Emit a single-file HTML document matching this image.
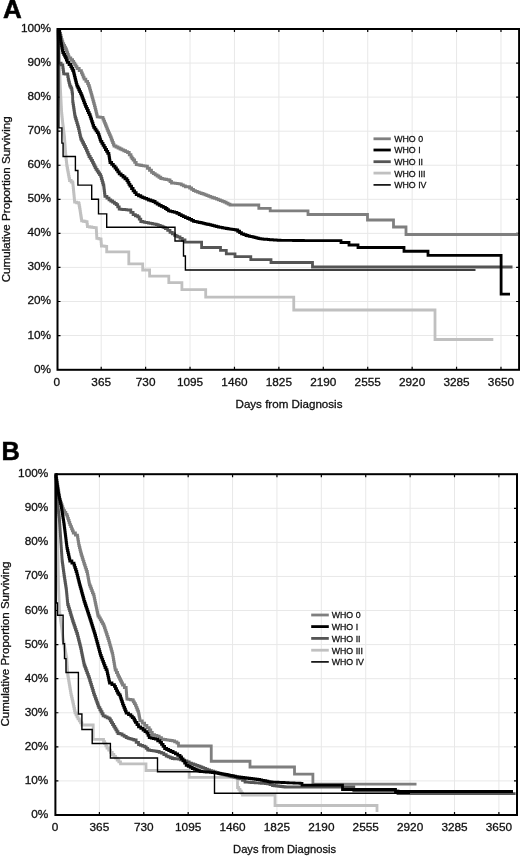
<!DOCTYPE html>
<html><head><meta charset="utf-8"><style>
html,body{margin:0;padding:0;background:#fff;}
body{width:520px;height:856px;overflow:hidden;}
svg{display:block;filter:grayscale(1) blur(0.3px);}
text{font-family:"Liberation Sans",sans-serif;fill:#111;stroke:#111;stroke-width:0.3px;}
.tk{font-size:11.8px;}
.lg{font-size:9.7px;}
.ti{font-size:11.2px;}
.big{font-size:26px;font-weight:bold;fill:#000;stroke:#000;stroke-width:0.5px;}
</style></head><body>
<svg width="520" height="856" viewBox="0 0 520 856">
<rect width="520" height="856" fill="#fff"/>
<path d="M101.20 29.00V369.80M145.62 29.00V369.80M190.04 29.00V369.80M234.46 29.00V369.80M278.88 29.00V369.80M323.30 29.00V369.80M367.72 29.00V369.80M412.14 29.00V369.80M456.56 29.00V369.80M500.98 29.00V369.80M57.50 335.54H519.10M57.50 301.48H519.10M57.50 267.42H519.10M57.50 233.36H519.10M57.50 199.30H519.10M57.50 165.24H519.10M57.50 131.18H519.10M57.50 97.12H519.10M57.50 63.06H519.10" stroke="#e8e8e8" stroke-width="1" fill="none"/>
<path d="M101.20 29.00v3M101.20 369.80v-3M145.62 29.00v3M145.62 369.80v-3M190.04 29.00v3M190.04 369.80v-3M234.46 29.00v3M234.46 369.80v-3M278.88 29.00v3M278.88 369.80v-3M323.30 29.00v3M323.30 369.80v-3M367.72 29.00v3M367.72 369.80v-3M412.14 29.00v3M412.14 369.80v-3M456.56 29.00v3M456.56 369.80v-3M500.98 29.00v3M500.98 369.80v-3M57.50 335.54h3M519.10 335.54h-3M57.50 301.48h3M519.10 301.48h-3M57.50 267.42h3M519.10 267.42h-3M57.50 233.36h3M519.10 233.36h-3M57.50 199.30h3M519.10 199.30h-3M57.50 165.24h3M519.10 165.24h-3M57.50 131.18h3M519.10 131.18h-3M57.50 97.12h3M519.10 97.12h-3M57.50 63.06h3M519.10 63.06h-3" stroke="#000" stroke-width="1.2" fill="none"/>
<path d="M57.50 29.50 H57.65 V31.55 H57.80 V33.60 H57.95 V35.65 H58.10 V37.70 H58.25 V39.75 H58.40 V41.80 H58.55 V43.85 H58.70 V45.90 H58.85 V47.95 H59.00 V50.00 H59.06 V52.00 H59.12 V54.00 H59.18 V56.00 H59.24 V58.00 H59.30 V60.00 H59.36 V62.00 H59.42 V64.00 H59.48 V66.00 H59.54 V68.00 H59.60 V70.00 H59.68 V72.00 H59.76 V74.00 H59.84 V76.00 H59.92 V78.00 H60.00 V80.00 H60.08 V82.00 H60.16 V84.00 H60.24 V86.00 H60.32 V88.00 H60.40 V90.00 H60.50 V91.94 H60.60 V93.88 H60.70 V95.83 H60.80 V97.77 H60.90 V99.71 H61.00 V101.65 H61.10 V103.59 H61.20 V105.53 H61.30 V107.47 H61.40 V109.42 H61.50 V111.36 H61.60 V113.30 H61.80 V115.25 H62.00 V117.20 H62.20 V119.15 H62.40 V121.10 H62.60 V123.05 H62.80 V125.00 H63.04 V127.00 H63.29 V129.00 H63.53 V131.00 H63.77 V133.00 H64.01 V135.00 H64.26 V137.00 H64.50 V139.00 H64.65 V141.05 H64.80 V143.10 H64.95 V145.15 H65.10 V147.20 H65.25 V149.25 H65.40 V151.30 H65.55 V153.35 H65.70 V155.40 H65.92 V157.50 H66.14 V159.60 H66.36 V161.70 H66.58 V163.80 H66.80 V165.90 H67.19 V167.99 H67.57 V170.07 H67.96 V172.16 H68.34 V174.24 H68.73 V176.33 H69.11 V178.41 H69.50 V180.50 H71.15 V182.00 H72.80 V183.50 H73.00 V185.58 H73.20 V187.66 H73.40 V189.73 H73.60 V191.81 H73.80 V193.89 H74.00 V195.97 H74.20 V198.04 H74.40 V200.12 H74.60 V202.20 H76.65 V202.75 H78.70 V203.30 H79.07 V205.27 H79.43 V207.23 H79.80 V209.20 H80.10 V211.15 H80.40 V213.10 H80.70 V215.05 H81.00 V217.00 H81.30 V218.95 H81.60 V220.90 H83.33 V221.27 H85.07 V221.63 H86.80 V222.00 H87.10 V224.35 H87.40 V226.70 H89.60 V227.00 H91.80 V227.30 H94.00 V227.60 H96.20 V227.90 H96.32 V230.00 H96.44 V232.10 H96.56 V234.20 H96.68 V236.30 H96.80 V238.40 H98.85 V238.95 H100.90 V239.50 H101.07 V241.67 H101.23 V243.83 H101.40 V246.00 H103.17 V246.17 H104.93 V246.33 H106.70 V246.50 H106.70 V248.27 H106.70 V250.03 H106.70 V251.80 H128.80 V263.80 H142.70 V270.00 H149.60 V276.20 H168.80 V282.70 H181.90 V289.60 H205.70 V297.20 H293.75 V310.00 H435.00 V339.50 H493.30" stroke="#c0c0c0" stroke-width="2.80" fill="none" stroke-linejoin="miter" stroke-linecap="butt"/>
<path d="M57.50 29.50 H59.30 V31.30 H59.88 V33.37 H60.47 V35.43 H61.05 V37.50 H61.63 V39.57 H62.22 V41.63 H62.80 V43.70 H63.70 V45.48 H64.60 V47.25 H65.50 V49.02 H66.40 V50.80 H67.05 V52.57 H67.70 V54.35 H68.35 V56.12 H69.00 V57.90 H70.80 V59.65 H72.60 V61.40 H73.70 V63.17 H74.80 V64.95 H75.90 V66.72 H77.00 V68.50 H79.20 V70.70 H81.40 V72.90 H82.30 V74.97 H83.20 V77.03 H84.10 V79.10 H85.85 V81.30 H87.60 V83.50 H88.50 V85.75 H89.40 V88.00 H90.00 V90.03 H90.60 V92.07 H91.20 V94.10 H91.73 V96.01 H92.26 V97.93 H92.79 V99.84 H93.31 V101.76 H93.84 V103.67 H94.37 V105.59 H94.90 V107.50 H95.36 V109.36 H95.82 V111.22 H96.28 V113.08 H96.74 V114.94 H97.20 V116.80 H98.95 V117.10 H100.70 V117.40 H103.00 V119.20 H103.80 V121.13 H104.60 V123.07 H105.40 V125.00 H106.17 V126.97 H106.93 V128.93 H107.70 V130.90 H108.58 V132.93 H109.45 V134.95 H110.33 V136.97 H111.20 V139.00 H111.90 V140.75 H112.60 V142.50 H113.30 V144.25 H114.00 V146.00 H116.00 V147.00 H118.00 V148.00 H120.00 V149.00 H121.88 V149.88 H123.75 V150.75 H125.62 V151.62 H127.50 V152.50 H129.25 V154.75 H131.00 V157.00 H132.05 V158.50 H133.10 V160.00 H134.65 V162.30 H136.20 V164.60 H138.04 V164.92 H139.88 V165.24 H141.72 V165.56 H143.56 V165.88 H145.40 V166.20 H147.43 V168.23 H149.47 V170.27 H151.50 V172.30 H153.36 V173.54 H155.22 V174.78 H157.08 V176.02 H158.94 V177.26 H160.80 V178.50 H162.73 V178.88 H164.65 V179.25 H166.57 V179.62 H168.50 V180.00 H170.00 V181.50 H171.50 V183.00 H173.43 V183.20 H175.35 V183.40 H177.27 V183.60 H179.20 V183.80 H181.27 V184.83 H183.33 V185.87 H185.40 V186.90 H187.70 V186.70 H189.63 V188.00 H191.57 V189.30 H193.50 V190.60 H195.43 V191.32 H197.35 V192.05 H199.27 V192.78 H201.20 V193.50 H203.10 V194.20 H205.00 V194.90 H206.90 V195.60 H208.80 V196.30 H210.73 V197.03 H212.65 V197.75 H214.57 V198.47 H216.50 V199.20 H218.43 V199.92 H220.35 V200.65 H222.27 V201.38 H224.20 V202.10 H226.13 V203.07 H228.07 V204.03 H230.00 V205.00 H258.80 V208.30 H270.20 V210.90 H308.00 V214.50 H367.50 V220.00 H393.50 V227.00 H406.00 V234.50 H518.00" stroke="#7f7f7f" stroke-width="2.80" fill="none" stroke-linejoin="miter" stroke-linecap="butt"/>
<path d="M58.80 29.50 V63.20 H61.10 V64.90 H62.80 V67.60 H63.10 V69.67 H63.40 V71.73 H63.70 V73.80 H65.50 V74.00 H67.30 V74.20 H67.75 V76.65 H68.20 V79.10 H68.62 V80.88 H69.05 V82.65 H69.48 V84.42 H69.90 V86.20 H70.80 V87.95 H71.70 V89.70 H72.00 V91.80 H72.30 V93.90 H72.60 V96.00 H72.63 V97.90 H72.67 V99.80 H72.70 V101.70 H72.99 V103.59 H73.28 V105.47 H73.56 V107.36 H73.85 V109.25 H74.14 V111.14 H74.42 V113.03 H74.71 V114.91 H75.00 V116.80 H75.58 V118.75 H76.17 V120.70 H76.75 V122.65 H77.33 V124.60 H77.92 V126.55 H78.50 V128.50 H78.96 V130.60 H79.42 V132.70 H79.88 V134.80 H80.34 V136.90 H80.80 V139.00 H81.74 V140.88 H82.68 V142.76 H83.62 V144.64 H84.56 V146.52 H85.50 V148.40 H86.38 V150.43 H87.25 V152.45 H88.12 V154.47 H89.00 V156.50 H90.17 V158.47 H91.33 V160.43 H92.50 V162.40 H93.38 V164.15 H94.25 V165.90 H95.12 V167.65 H96.00 V169.40 H97.17 V171.15 H98.35 V172.90 H99.53 V174.65 H100.70 V176.40 H101.32 V178.52 H101.94 V180.64 H102.56 V182.76 H103.18 V184.88 H103.80 V187.00 H104.02 V188.86 H104.24 V190.72 H104.46 V192.58 H104.68 V194.44 H104.90 V196.30 H106.95 V198.05 H109.00 V199.80 H110.80 V201.00 H112.60 V202.20 H114.40 V203.40 H116.20 V204.60 H117.70 V206.90 H119.20 V209.20 H121.06 V209.36 H122.92 V209.52 H124.78 V209.68 H126.64 V209.84 H128.50 V210.00 H130.80 V212.30 H133.10 V214.60 H135.40 V215.75 H137.70 V216.90 H139.25 V219.20 H140.80 V221.50 H142.73 V221.90 H144.65 V222.30 H146.57 V222.70 H148.50 V223.10 H150.43 V223.47 H152.35 V223.85 H154.27 V224.22 H156.20 V224.60 H158.23 V225.37 H160.27 V226.13 H162.30 V226.90 H163.85 V227.70 H165.40 V228.50 H167.70 V230.40 H170.00 V232.30 H172.30 V233.85 H174.60 V235.40 H176.15 V236.15 H177.70 V236.90 H180.00 V238.45 H182.30 V240.00 H185.00 V242.20 H201.60 V247.50 H220.50 V250.40 H226.30 V253.80 H235.00 V256.70 H250.80 V259.60 H271.00 V262.50 H312.50 V267.00 H512.50" stroke="#555555" stroke-width="2.80" fill="none" stroke-linejoin="miter" stroke-linecap="butt"/>
<path d="M57.50 29.50 H59.30 V31.30 H59.60 V33.37 H59.90 V35.43 H60.20 V37.50 H60.50 V39.57 H60.80 V41.63 H61.10 V43.70 H61.52 V45.90 H61.95 V48.10 H62.38 V50.30 H62.80 V52.50 H63.70 V54.30 H64.60 V56.10 H65.50 V57.90 H66.40 V60.10 H67.30 V62.30 H69.05 V64.50 H70.80 V66.70 H71.70 V68.47 H72.60 V70.23 H73.50 V72.00 H73.92 V73.78 H74.35 V75.55 H74.78 V77.32 H75.20 V79.10 H75.65 V80.88 H76.10 V82.65 H76.55 V84.42 H77.00 V86.20 H77.88 V87.97 H78.75 V89.75 H79.62 V91.53 H80.50 V93.30 H81.25 V95.15 H82.00 V97.00 H82.70 V98.86 H83.40 V100.72 H84.10 V102.58 H84.80 V104.44 H85.50 V106.30 H86.44 V108.40 H87.38 V110.50 H88.32 V112.60 H89.26 V114.70 H90.20 V116.80 H90.90 V118.92 H91.60 V121.04 H92.30 V123.16 H93.00 V125.28 H93.70 V127.40 H94.88 V129.15 H96.05 V130.90 H97.23 V132.65 H98.40 V134.40 H98.98 V136.15 H99.55 V137.90 H100.12 V139.65 H100.70 V141.40 H101.88 V143.43 H103.05 V145.45 H104.23 V147.47 H105.40 V149.50 H106.57 V151.47 H107.73 V153.43 H108.90 V155.40 H109.18 V157.18 H109.45 V158.95 H109.72 V160.72 H110.00 V162.50 H111.67 V164.33 H113.33 V166.17 H115.00 V168.00 H116.40 V169.93 H117.80 V171.87 H119.20 V173.80 H121.10 V175.40 H123.00 V177.00 H124.95 V178.75 H126.90 V180.50 H127.93 V182.40 H128.97 V184.30 H130.00 V186.20 H131.55 V188.50 H133.10 V190.80 H134.65 V192.70 H136.20 V194.60 H138.50 V195.75 H140.80 V196.90 H142.73 V197.68 H144.65 V198.45 H146.57 V199.22 H148.50 V200.00 H150.80 V200.75 H153.10 V201.50 H155.13 V202.80 H157.17 V204.10 H159.20 V205.40 H161.27 V206.43 H163.33 V207.47 H165.40 V208.50 H166.95 V209.65 H168.50 V210.80 H170.53 V211.30 H172.57 V211.80 H174.60 V212.30 H176.90 V213.45 H179.20 V214.60 H181.27 V215.63 H183.33 V216.67 H185.40 V217.70 H187.70 V218.50 H189.63 V219.43 H191.57 V220.37 H193.50 V221.30 H195.42 V221.70 H197.34 V222.10 H199.26 V222.50 H201.18 V222.90 H203.10 V223.30 H205.03 V223.78 H206.95 V224.25 H208.88 V224.72 H210.80 V225.20 H212.73 V225.67 H214.65 V226.15 H216.57 V226.62 H218.50 V227.10 H220.43 V227.45 H222.35 V227.80 H224.27 V228.15 H226.20 V228.50 H228.12 V228.80 H230.04 V229.10 H231.96 V229.40 H233.88 V229.70 H235.80 V230.00 H237.70 V231.27 H239.60 V232.53 H241.50 V233.80 H243.75 V234.65 H246.00 V235.50 H247.73 V235.90 H249.47 V236.30 H251.20 V236.70 H253.10 V237.20 H255.00 V237.70 H256.90 V238.20 H258.80 V238.70 H260.74 V238.88 H262.68 V239.06 H264.62 V239.24 H266.56 V239.42 H268.50 V239.60 H270.42 V239.73 H272.33 V239.87 H274.25 V240.00 H276.17 V240.13 H278.08 V240.27 H280.00 V240.40 H281.94 V240.41 H283.89 V240.42 H285.83 V240.43 H287.78 V240.44 H289.72 V240.46 H291.67 V240.47 H293.61 V240.48 H295.56 V240.49 H297.50 V240.50 H299.44 V240.51 H301.39 V240.52 H303.33 V240.53 H305.28 V240.54 H307.22 V240.56 H309.17 V240.57 H311.11 V240.58 H313.06 V240.59 H315.00 V240.60 H341.00 V242.50 H349.00 V245.00 H358.00 V247.50 H404.00 V251.25 H428.00 V255.30 H501.10 V294.10 H510.00" stroke="#000000" stroke-width="2.80" fill="none" stroke-linejoin="miter" stroke-linecap="butt"/>
<path d="M58.90 29.50 V127.90 H61.90 V143.10 H63.10 V156.50 H75.40 V170.50 H77.90 V185.10 H91.70 V199.30 H98.50 V213.90 H106.70 V227.30 H175.00 V241.00 H183.50 V256.00 H185.40 V270.00 H475.50" stroke="#000000" stroke-width="1.40" fill="none" stroke-linejoin="miter" stroke-linecap="butt"/>
<rect x="57.50" y="29.00" width="461.60" height="340.80" stroke="#000" stroke-width="2" fill="none"/>
<path d="M373.50 138.80H390.80" stroke="#7f7f7f" stroke-width="2.80"/>
<text x="394.20" y="142.20" class="lg" textLength="28.85" lengthAdjust="spacingAndGlyphs">WHO 0</text>
<path d="M373.50 150.00H390.80" stroke="#000000" stroke-width="2.80"/>
<text x="394.20" y="153.40" class="lg" textLength="26.40" lengthAdjust="spacingAndGlyphs">WHO I</text>
<path d="M373.50 161.70H390.80" stroke="#555555" stroke-width="2.80"/>
<text x="394.20" y="165.10" class="lg" textLength="28.84" lengthAdjust="spacingAndGlyphs">WHO II</text>
<path d="M373.50 173.10H390.80" stroke="#c0c0c0" stroke-width="2.80"/>
<text x="394.20" y="176.50" class="lg" textLength="31.29" lengthAdjust="spacingAndGlyphs">WHO III</text>
<path d="M373.50 184.90H390.80" stroke="#000000" stroke-width="1.60"/>
<text x="394.20" y="188.30" class="lg" textLength="32.27" lengthAdjust="spacingAndGlyphs">WHO IV</text>
<text x="51.10" y="372.60" class="tk" text-anchor="end">0%</text>
<text x="51.10" y="338.54" class="tk" text-anchor="end">10%</text>
<text x="51.10" y="304.48" class="tk" text-anchor="end">20%</text>
<text x="51.10" y="270.42" class="tk" text-anchor="end">30%</text>
<text x="51.10" y="236.36" class="tk" text-anchor="end">40%</text>
<text x="51.10" y="202.30" class="tk" text-anchor="end">50%</text>
<text x="51.10" y="168.24" class="tk" text-anchor="end">60%</text>
<text x="51.10" y="134.18" class="tk" text-anchor="end">70%</text>
<text x="51.10" y="100.12" class="tk" text-anchor="end">80%</text>
<text x="51.10" y="66.06" class="tk" text-anchor="end">90%</text>
<text x="51.10" y="32.00" class="tk" text-anchor="end">100%</text>
<text x="56.78" y="386.00" class="tk" text-anchor="middle">0</text>
<text x="101.20" y="386.00" class="tk" text-anchor="middle">365</text>
<text x="145.62" y="386.00" class="tk" text-anchor="middle">730</text>
<text x="190.04" y="386.00" class="tk" text-anchor="middle">1095</text>
<text x="234.46" y="386.00" class="tk" text-anchor="middle">1460</text>
<text x="278.88" y="386.00" class="tk" text-anchor="middle">1825</text>
<text x="323.30" y="386.00" class="tk" text-anchor="middle">2190</text>
<text x="367.72" y="386.00" class="tk" text-anchor="middle">2555</text>
<text x="412.14" y="386.00" class="tk" text-anchor="middle">2920</text>
<text x="456.56" y="386.00" class="tk" text-anchor="middle">3285</text>
<text x="500.98" y="386.00" class="tk" text-anchor="middle">3650</text>
<text x="289.00" y="407.60" class="ti" text-anchor="middle" textLength="107" lengthAdjust="spacingAndGlyphs">Days from Diagnosis</text>
<text transform="translate(10.40 199.30) rotate(-90)" x="0" y="0" class="ti" text-anchor="middle" textLength="166" lengthAdjust="spacingAndGlyphs">Cumulative Proportion Surviving</text>
<text x="3.05" y="17.50" class="big" style="font-size:26.0px">A</text>
<path d="M99.39 474.20V815.00M143.78 474.20V815.00M188.17 474.20V815.00M232.56 474.20V815.00M276.95 474.20V815.00M321.34 474.20V815.00M365.73 474.20V815.00M410.12 474.20V815.00M454.51 474.20V815.00M498.90 474.20V815.00M55.40 780.92H517.00M55.40 746.84H517.00M55.40 712.76H517.00M55.40 678.68H517.00M55.40 644.60H517.00M55.40 610.52H517.00M55.40 576.44H517.00M55.40 542.36H517.00M55.40 508.28H517.00" stroke="#e8e8e8" stroke-width="1" fill="none"/>
<path d="M99.39 474.20v3M99.39 815.00v-3M143.78 474.20v3M143.78 815.00v-3M188.17 474.20v3M188.17 815.00v-3M232.56 474.20v3M232.56 815.00v-3M276.95 474.20v3M276.95 815.00v-3M321.34 474.20v3M321.34 815.00v-3M365.73 474.20v3M365.73 815.00v-3M410.12 474.20v3M410.12 815.00v-3M454.51 474.20v3M454.51 815.00v-3M498.90 474.20v3M498.90 815.00v-3M55.40 780.92h3M517.00 780.92h-3M55.40 746.84h3M517.00 746.84h-3M55.40 712.76h3M517.00 712.76h-3M55.40 678.68h3M517.00 678.68h-3M55.40 644.60h3M517.00 644.60h-3M55.40 610.52h3M517.00 610.52h-3M55.40 576.44h3M517.00 576.44h-3M55.40 542.36h3M517.00 542.36h-3M55.40 508.28h3M517.00 508.28h-3" stroke="#000" stroke-width="1.2" fill="none"/>
<path d="M55.80 474.50 H55.84 V476.47 H55.87 V478.45 H55.91 V480.42 H55.95 V482.39 H55.98 V484.37 H56.02 V486.34 H56.06 V488.32 H56.09 V490.29 H56.13 V492.26 H56.17 V494.24 H56.21 V496.21 H56.24 V498.18 H56.28 V500.16 H56.32 V502.13 H56.35 V504.11 H56.39 V506.08 H56.43 V508.05 H56.46 V510.03 H56.50 V512.00 H56.57 V514.00 H56.63 V516.00 H56.70 V518.00 H56.77 V520.00 H56.83 V522.00 H56.90 V524.00 H56.97 V526.00 H57.03 V528.00 H57.10 V530.00 H57.17 V532.00 H57.23 V534.00 H57.30 V536.00 H57.37 V538.00 H57.43 V540.00 H57.50 V542.00 H57.57 V544.00 H57.63 V546.00 H57.70 V548.00 H57.77 V550.00 H57.83 V552.00 H57.90 V554.00 H57.94 V556.00 H57.98 V558.00 H58.02 V560.00 H58.06 V562.00 H58.09 V564.00 H58.13 V566.00 H58.17 V568.00 H58.21 V570.00 H58.25 V572.00 H58.29 V574.00 H58.33 V576.00 H58.37 V578.00 H58.41 V580.00 H58.44 V582.00 H58.48 V584.00 H58.52 V586.00 H58.56 V588.00 H58.60 V590.00 H58.68 V592.06 H58.76 V594.13 H58.85 V596.19 H58.93 V598.25 H59.01 V600.32 H59.09 V602.38 H59.17 V604.45 H59.25 V606.51 H59.34 V608.57 H59.42 V610.64 H59.50 V612.70 H59.78 V614.62 H60.06 V616.54 H60.33 V618.47 H60.61 V620.39 H60.89 V622.31 H61.17 V624.23 H61.44 V626.16 H61.72 V628.08 H62.00 V630.00 H62.20 V632.00 H62.40 V634.00 H62.60 V636.00 H62.80 V638.00 H63.00 V640.00 H63.38 V642.00 H63.75 V644.00 H64.12 V646.00 H64.50 V648.00 H64.88 V650.00 H65.25 V652.00 H65.62 V654.00 H66.00 V656.00 H66.38 V658.00 H66.75 V660.00 H66.87 V661.88 H66.99 V663.75 H67.11 V665.62 H67.22 V667.50 H67.34 V669.38 H67.46 V671.25 H67.58 V673.12 H67.70 V675.00 H68.03 V676.96 H68.36 V678.92 H68.69 V680.88 H69.02 V682.84 H69.35 V684.80 H69.68 V686.76 H70.01 V688.72 H70.34 V690.68 H70.67 V692.64 H71.00 V694.60 H71.42 V696.45 H71.85 V698.30 H72.28 V700.15 H72.70 V702.00 H73.16 V704.16 H73.62 V706.32 H74.08 V708.48 H74.54 V710.64 H75.00 V712.80 H76.00 V714.83 H77.00 V716.87 H78.00 V718.90 H79.30 V720.93 H80.60 V722.97 H81.90 V725.00 H93.20 V739.40 H102.40 H103.55 V741.55 H104.70 V743.70 H105.85 V745.85 H107.00 V748.00 H108.73 V750.17 H110.47 V752.33 H112.20 V754.50 H113.86 V756.36 H115.52 V758.22 H117.18 V760.08 H118.84 V761.94 H120.50 V763.80 H146.00 V770.50 H189.20 V777.30 H237.50 V787.50 H238.75 V789.38 H240.00 V791.25 H241.25 V793.12 H242.50 V795.00 H275.00 V805.50 H377.00 V812.00" stroke="#c0c0c0" stroke-width="2.80" fill="none" stroke-linejoin="miter" stroke-linecap="butt"/>
<path d="M55.80 474.50 H56.12 V476.52 H56.45 V478.55 H56.77 V480.57 H57.09 V482.59 H57.42 V484.62 H57.74 V486.64 H58.06 V488.66 H58.38 V490.68 H58.71 V492.71 H59.03 V494.73 H59.35 V496.75 H59.68 V498.78 H60.00 V500.80 H60.70 V502.76 H61.40 V504.72 H62.10 V506.68 H62.80 V508.64 H63.50 V510.60 H64.67 V512.47 H65.83 V514.33 H67.00 V516.20 H67.70 V518.30 H68.40 V520.40 H69.10 V522.50 H69.80 V524.60 H70.67 V526.70 H71.55 V528.80 H72.42 V530.90 H73.30 V533.00 H75.40 V535.10 H77.50 V537.20 H77.85 V539.30 H78.20 V541.40 H78.55 V543.50 H78.90 V545.60 H79.43 V547.70 H79.95 V549.80 H80.47 V551.90 H81.00 V554.00 H81.58 V555.87 H82.17 V557.73 H82.75 V559.60 H83.33 V561.47 H83.92 V563.33 H84.50 V565.20 H85.20 V567.30 H85.90 V569.40 H86.60 V571.50 H87.30 V573.60 H87.65 V575.47 H88.00 V577.33 H88.35 V579.20 H88.70 V581.07 H89.05 V582.93 H89.40 V584.80 H90.15 V586.73 H90.90 V588.67 H91.65 V590.60 H92.40 V592.53 H93.15 V594.47 H93.90 V596.40 H94.31 V598.36 H94.72 V600.32 H95.13 V602.28 H95.54 V604.24 H95.95 V606.20 H96.36 V608.16 H96.77 V610.12 H97.18 V612.08 H97.59 V614.04 H98.00 V616.00 H99.14 V617.96 H100.28 V619.92 H101.42 V621.88 H102.56 V623.84 H103.70 V625.80 H104.40 V627.91 H105.10 V630.03 H105.80 V632.14 H106.50 V634.26 H107.20 V636.37 H107.90 V638.49 H108.60 V640.60 H109.19 V642.70 H109.77 V644.80 H110.36 V646.90 H110.94 V649.00 H111.53 V651.10 H112.11 V653.20 H112.70 V655.30 H113.06 V657.40 H113.41 V659.50 H113.77 V661.60 H114.13 V663.70 H114.49 V665.80 H114.84 V667.90 H115.20 V670.00 H116.40 V672.50 H117.60 V675.00 H118.58 V677.00 H119.56 V679.00 H120.54 V681.00 H121.52 V683.00 H122.50 V685.00 H124.35 V687.50 H126.20 V690.00 H126.34 V691.84 H126.48 V693.68 H126.62 V695.52 H126.76 V697.36 H126.90 V699.20 H128.70 V699.47 H130.50 V699.73 H132.30 V700.00 H133.33 V701.80 H134.37 V703.60 H135.40 V705.40 H136.18 V707.33 H136.95 V709.25 H137.72 V711.17 H138.50 V713.10 H138.88 V715.02 H139.25 V716.95 H139.62 V718.88 H140.00 V720.80 H142.30 V723.10 H144.60 V725.40 H146.90 V727.70 H149.20 V730.00 H150.75 V732.30 H152.30 V734.60 H154.60 V735.40 H156.90 V736.20 H159.20 V737.70 H161.50 V739.20 H163.66 V739.52 H165.82 V739.84 H167.98 V740.16 H170.14 V740.48 H172.30 V740.80 H174.60 V741.95 H176.90 V743.10 H178.50 V746.00 H211.25 V761.25 H250.00 V767.00 H294.50 V774.20 H312.90 V784.20 H416.50" stroke="#7f7f7f" stroke-width="2.80" fill="none" stroke-linejoin="miter" stroke-linecap="butt"/>
<path d="M55.80 474.50 H55.92 V476.44 H56.04 V478.38 H56.16 V480.31 H56.27 V482.25 H56.39 V484.19 H56.51 V486.12 H56.63 V488.06 H56.75 V490.00 H56.83 V492.03 H56.90 V494.07 H56.98 V496.10 H57.05 V498.13 H57.12 V500.17 H57.20 V502.20 H57.46 V504.30 H57.73 V506.40 H57.99 V508.50 H58.25 V510.60 H58.51 V512.70 H58.77 V514.80 H59.04 V516.90 H59.30 V519.00 H59.44 V521.10 H59.58 V523.20 H59.72 V525.30 H59.86 V527.40 H60.00 V529.50 H60.14 V531.60 H60.28 V533.70 H60.42 V535.80 H60.56 V537.90 H60.70 V540.00 H60.84 V542.10 H60.98 V544.20 H61.12 V546.30 H61.26 V548.40 H61.40 V550.50 H61.54 V552.60 H61.68 V554.70 H61.82 V556.80 H61.96 V558.90 H62.10 V561.00 H62.36 V562.92 H62.62 V564.85 H62.89 V566.77 H63.15 V568.70 H63.41 V570.62 H63.68 V572.55 H63.94 V574.48 H64.20 V576.40 H64.50 V578.34 H64.80 V580.29 H65.10 V582.23 H65.40 V584.17 H65.70 V586.11 H66.00 V588.06 H66.30 V590.00 H66.50 V592.07 H66.70 V594.14 H66.90 V596.21 H67.10 V598.29 H67.30 V600.36 H67.50 V602.43 H67.70 V604.50 H68.31 V606.56 H68.92 V608.62 H69.54 V610.69 H70.15 V612.75 H70.76 V614.81 H71.38 V616.88 H71.99 V618.94 H72.60 V621.00 H73.30 V623.09 H74.00 V625.17 H74.70 V627.26 H75.40 V629.34 H76.10 V631.43 H76.80 V633.51 H77.50 V635.60 H77.97 V637.47 H78.44 V639.34 H78.91 V641.21 H79.39 V643.09 H79.86 V644.96 H80.33 V646.83 H80.80 V648.70 H81.21 V650.74 H81.62 V652.78 H82.04 V654.81 H82.45 V656.85 H82.86 V658.89 H83.27 V660.92 H83.69 V662.96 H84.10 V665.00 H84.80 V666.89 H85.50 V668.77 H86.20 V670.66 H86.90 V672.54 H87.60 V674.43 H88.30 V676.31 H89.00 V678.20 H89.62 V680.25 H90.25 V682.30 H90.88 V684.35 H91.50 V686.40 H92.12 V688.45 H92.75 V690.50 H93.38 V692.55 H94.00 V694.60 H94.69 V696.47 H95.37 V698.34 H96.06 V700.21 H96.74 V702.09 H97.43 V703.96 H98.11 V705.83 H98.80 V707.70 H99.88 V709.73 H100.95 V711.75 H102.02 V713.77 H103.10 V715.80 H105.13 V716.83 H107.17 V717.87 H109.20 V718.90 H110.33 V720.77 H111.45 V722.65 H112.58 V724.52 H113.70 V726.40 H114.78 V728.17 H115.85 V729.95 H116.92 V731.73 H118.00 V733.50 H120.00 V733.80 H122.07 V735.10 H124.13 V736.40 H126.20 V737.70 H128.10 V738.28 H130.00 V738.85 H131.90 V739.42 H133.80 V740.00 H136.15 V742.30 H138.50 V744.60 H140.53 V745.37 H142.57 V746.13 H144.60 V746.90 H146.15 V748.45 H147.70 V750.00 H149.54 V750.30 H151.38 V750.60 H153.22 V750.90 H155.06 V751.20 H156.90 V751.50 H159.20 V752.30 H161.50 V753.10 H163.85 V754.65 H166.20 V756.20 H168.23 V756.97 H170.27 V757.73 H172.30 V758.50 H174.37 V758.73 H176.43 V758.97 H178.50 V759.20 H180.53 V759.73 H182.57 V760.27 H184.60 V760.80 H186.90 V761.95 H189.20 V763.10 H191.50 V763.85 H193.80 V764.60 H195.87 V765.37 H197.93 V766.13 H200.00 V766.90 H201.88 V767.67 H203.75 V768.45 H205.62 V769.23 H207.50 V770.00 H209.58 V770.62 H211.67 V771.25 H213.75 V771.88 H215.83 V772.50 H217.92 V773.12 H220.00 V773.75 H222.00 V774.25 H224.00 V774.75 H226.00 V775.25 H228.00 V775.75 H230.00 V776.25 H232.00 V776.75 H234.00 V777.25 H236.00 V777.75 H238.00 V778.25 H240.00 V778.75 H242.50 V780.38 H245.00 V782.00 H247.05 V782.16 H249.09 V782.32 H251.14 V782.48 H253.18 V782.64 H255.23 V782.80 H257.27 V782.95 H259.32 V783.11 H261.36 V783.27 H263.41 V783.43 H265.45 V783.59 H267.50 V783.75 H270.00 V784.62 H272.50 V785.50 H274.58 V785.75 H276.67 V786.00 H278.75 V786.25 H280.83 V786.50 H282.92 V786.75 H285.00 V787.00 H353.80 V790.80 H398.00 V793.70 H515.60" stroke="#555555" stroke-width="2.80" fill="none" stroke-linejoin="miter" stroke-linecap="butt"/>
<path d="M55.80 474.50 H56.04 V476.50 H56.27 V478.50 H56.51 V480.50 H56.75 V482.50 H57.06 V484.62 H57.37 V486.73 H57.67 V488.85 H57.98 V490.97 H58.29 V493.08 H58.60 V495.20 H59.07 V497.30 H59.53 V499.40 H60.00 V501.50 H60.47 V503.60 H60.93 V505.70 H61.40 V507.80 H61.71 V509.82 H62.02 V511.84 H62.33 V513.87 H62.64 V515.89 H62.96 V517.91 H63.27 V519.93 H63.58 V521.96 H63.89 V523.98 H64.20 V526.00 H64.45 V528.04 H64.71 V530.07 H64.96 V532.11 H65.22 V534.15 H65.47 V536.18 H65.73 V538.22 H65.98 V540.25 H66.24 V542.29 H66.49 V544.33 H66.75 V546.36 H67.00 V548.40 H67.47 V550.50 H67.93 V552.60 H68.40 V554.70 H68.87 V556.80 H69.33 V558.90 H69.80 V561.00 H71.90 V563.10 H74.00 V565.20 H74.70 V567.30 H75.40 V569.40 H76.10 V571.50 H76.80 V573.60 H77.27 V575.47 H77.73 V577.33 H78.20 V579.20 H78.67 V581.07 H79.13 V582.93 H79.60 V584.80 H80.16 V586.86 H80.72 V588.92 H81.29 V590.99 H81.85 V593.05 H82.41 V595.11 H82.97 V597.17 H83.54 V599.24 H84.10 V601.30 H84.75 V603.27 H85.40 V605.24 H86.05 V607.21 H86.70 V609.18 H87.35 V611.15 H88.00 V613.12 H88.65 V615.09 H89.30 V617.06 H89.95 V619.03 H90.60 V621.00 H91.22 V623.04 H91.85 V625.08 H92.47 V627.11 H93.10 V629.15 H93.72 V631.19 H94.35 V633.22 H94.97 V635.26 H95.60 V637.30 H96.14 V639.30 H96.69 V641.30 H97.23 V643.30 H97.78 V645.30 H98.32 V647.30 H98.87 V649.30 H99.41 V651.30 H99.96 V653.30 H100.50 V655.30 H101.25 V657.33 H102.00 V659.37 H102.75 V661.40 H103.50 V663.43 H104.25 V665.47 H105.00 V667.50 H106.00 V669.60 H107.00 V671.70 H107.42 V673.58 H107.83 V675.47 H108.25 V677.35 H108.67 V679.23 H109.08 V681.12 H109.50 V683.00 H111.95 V684.70 H114.40 V686.40 H115.47 V688.60 H116.53 V690.80 H117.60 V693.00 H118.80 V694.60 H120.00 V696.20 H120.62 V698.04 H121.24 V699.88 H121.86 V701.72 H122.48 V703.56 H123.10 V705.40 H123.88 V707.33 H124.65 V709.25 H125.42 V711.17 H126.20 V713.10 H128.50 V714.65 H130.80 V716.20 H132.30 V717.70 H133.80 V719.20 H134.60 V720.75 H135.40 V722.30 H136.95 V724.60 H138.50 V726.90 H140.80 V728.45 H143.10 V730.00 H145.00 V731.55 H146.90 V733.10 H148.05 V735.40 H149.20 V737.70 H151.27 V738.20 H153.33 V738.70 H155.40 V739.20 H157.70 V740.75 H160.00 V742.30 H161.53 V744.37 H163.07 V746.43 H164.60 V748.50 H166.67 V749.50 H168.73 V750.50 H170.80 V751.50 H173.10 V752.65 H175.40 V753.80 H177.70 V755.35 H180.00 V756.90 H181.55 V758.85 H183.10 V760.80 H184.65 V763.10 H186.20 V765.40 H188.23 V766.43 H190.27 V767.47 H192.30 V768.50 H194.23 V769.25 H196.15 V770.00 H198.07 V770.75 H200.00 V771.50 H202.08 V771.67 H204.17 V771.83 H206.25 V772.00 H208.33 V772.17 H210.42 V772.33 H212.50 V772.50 H214.58 V772.83 H216.67 V773.17 H218.75 V773.50 H220.83 V773.83 H222.92 V774.17 H225.00 V774.50 H227.08 V774.92 H229.17 V775.33 H231.25 V775.75 H233.33 V776.17 H235.42 V776.58 H237.50 V777.00 H239.50 V777.25 H241.50 V777.50 H243.50 V777.75 H245.50 V778.00 H247.50 V778.25 H249.50 V778.50 H251.50 V778.75 H253.50 V779.00 H255.50 V779.25 H257.50 V779.50 H259.58 V779.92 H261.67 V780.33 H263.75 V780.75 H265.83 V781.17 H267.92 V781.58 H270.00 V782.00 H272.00 V782.09 H274.00 V782.17 H276.00 V782.26 H278.00 V782.35 H280.00 V782.43 H282.00 V782.52 H284.00 V782.61 H286.00 V782.69 H288.00 V782.78 H290.00 V782.87 H292.00 V782.95 H294.00 V783.04 H296.00 V783.13 H298.00 V783.21 H300.00 V783.30 H302.00 V785.20 H342.50 V789.50 H395.50 V791.50 H513.00" stroke="#000000" stroke-width="2.80" fill="none" stroke-linejoin="miter" stroke-linecap="butt"/>
<path d="M56.20 474.50 V603.00 H57.50 V615.20 H63.10 V643.80 H64.50 V658.60 H66.00 V672.50 H78.40 V714.00 H81.90 V729.50 H92.20 V743.50 H110.40 V758.00 H157.50 V771.75 H214.50 V793.25 H410.00" stroke="#000000" stroke-width="1.40" fill="none" stroke-linejoin="miter" stroke-linecap="butt"/>
<rect x="55.40" y="474.20" width="461.60" height="340.80" stroke="#000" stroke-width="2" fill="none"/>
<path d="M311.20 615.00H328.80" stroke="#7f7f7f" stroke-width="2.80"/>
<text x="331.70" y="618.40" class="lg" textLength="28.85" lengthAdjust="spacingAndGlyphs">WHO 0</text>
<path d="M311.20 626.60H328.80" stroke="#000000" stroke-width="2.80"/>
<text x="331.70" y="630.00" class="lg" textLength="26.40" lengthAdjust="spacingAndGlyphs">WHO I</text>
<path d="M311.20 638.40H328.80" stroke="#555555" stroke-width="2.80"/>
<text x="331.70" y="641.80" class="lg" textLength="28.84" lengthAdjust="spacingAndGlyphs">WHO II</text>
<path d="M311.20 650.20H328.80" stroke="#c0c0c0" stroke-width="2.80"/>
<text x="331.70" y="653.60" class="lg" textLength="31.29" lengthAdjust="spacingAndGlyphs">WHO III</text>
<path d="M311.20 661.90H328.80" stroke="#000000" stroke-width="1.60"/>
<text x="331.70" y="665.30" class="lg" textLength="32.27" lengthAdjust="spacingAndGlyphs">WHO IV</text>
<text x="48.30" y="818.00" class="tk" text-anchor="end">0%</text>
<text x="48.30" y="783.92" class="tk" text-anchor="end">10%</text>
<text x="48.30" y="749.84" class="tk" text-anchor="end">20%</text>
<text x="48.30" y="715.76" class="tk" text-anchor="end">30%</text>
<text x="48.30" y="681.68" class="tk" text-anchor="end">40%</text>
<text x="48.30" y="647.60" class="tk" text-anchor="end">50%</text>
<text x="48.30" y="613.52" class="tk" text-anchor="end">60%</text>
<text x="48.30" y="579.44" class="tk" text-anchor="end">70%</text>
<text x="48.30" y="545.36" class="tk" text-anchor="end">80%</text>
<text x="48.30" y="511.28" class="tk" text-anchor="end">90%</text>
<text x="48.30" y="477.20" class="tk" text-anchor="end">100%</text>
<text x="55.00" y="831.00" class="tk" text-anchor="middle">0</text>
<text x="99.39" y="831.00" class="tk" text-anchor="middle">365</text>
<text x="143.78" y="831.00" class="tk" text-anchor="middle">730</text>
<text x="188.17" y="831.00" class="tk" text-anchor="middle">1095</text>
<text x="232.56" y="831.00" class="tk" text-anchor="middle">1460</text>
<text x="276.95" y="831.00" class="tk" text-anchor="middle">1825</text>
<text x="321.34" y="831.00" class="tk" text-anchor="middle">2190</text>
<text x="365.73" y="831.00" class="tk" text-anchor="middle">2555</text>
<text x="410.12" y="831.00" class="tk" text-anchor="middle">2920</text>
<text x="454.51" y="831.00" class="tk" text-anchor="middle">3285</text>
<text x="498.90" y="831.00" class="tk" text-anchor="middle">3650</text>
<text x="284.60" y="852.50" class="ti" text-anchor="middle" textLength="103" lengthAdjust="spacingAndGlyphs">Days from Diagnosis</text>
<text transform="translate(9.00 644.10) rotate(-90)" x="0" y="0" class="ti" text-anchor="middle" textLength="165" lengthAdjust="spacingAndGlyphs">Cumulative Proportion Surviving</text>
<text x="1.40" y="459.90" class="big" style="font-size:25.4px">B</text>
</svg>
</body></html>
